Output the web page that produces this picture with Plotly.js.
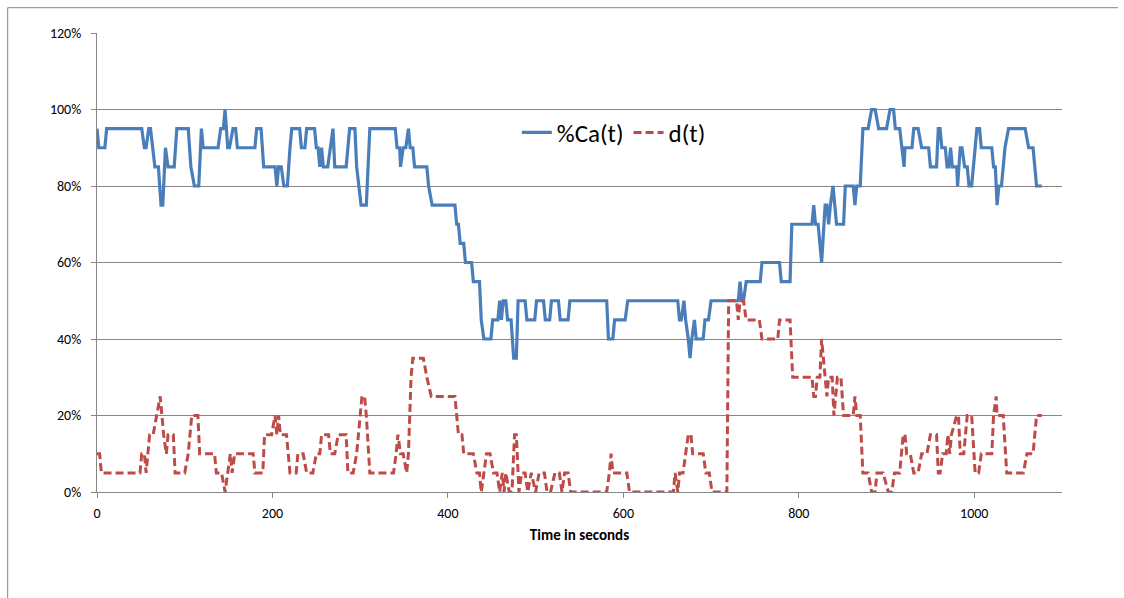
<!DOCTYPE html>
<html>
<head>
<meta charset="utf-8">
<script src="https://cdn.plot.ly/plotly-3.0.1.min.js"></script>
<style>
html,body{margin:0;padding:0;background:#fff;}
#chart{width:1124px;height:598px;}
</style>
</head>
<body>
<div id="chart"></div>
<script>
// %Ca(t) series: time (s) and percent
const tCa = [0,2,9,11,51,54,56,59,61,66,70,73,75,78,81,88,91,104,107,111,116,119,121,138,141,144,146,149,151,155,158,160,180,182,187,190,203,205,207,210,213,217,220,222,231,233,237,239,248,250,252,254,256,258,263,266,269,271,284,288,294,296,301,307,311,340,342,345,346,349,352,355,357,360,362,376,378,382,408,410,412,414,418,420,427,429,436,438,441,449,451,457,459,461,463,466,468,472,475,478,480,488,490,499,501,509,511,516,518,526,528,537,539,581,583,588,590,602,605,662,664,666,669,671,674,676,678,681,683,691,693,697,700,729,731,733,735,737,740,756,758,778,780,790,792,815,817,819,822,826,830,832,834,836,839,843,851,853,862,864,866,870,873,879,883,887,891,900,904,908,910,915,920,921,929,931,936,940,948,950,957,959,961,963,967,969,971,973,975,980,981,984,986,989,992,994,997,1001,1003,1006,1008,1020,1022,1024,1026,1028,1031,1035,1039,1058,1062,1067,1071,1077];
const ca  = [95,90,90,95,95,90,90,95,95,85,85,75,75,90,85,85,95,95,85,80,80,95,90,90,95,95,100,90,90,95,95,90,90,95,95,85,85,80,85,85,80,80,90,95,95,90,90,95,95,90,90,85,90,85,85,90,95,85,85,95,95,85,75,75,95,95,90,90,85,90,90,95,90,90,85,85,80,75,75,70,70,65,65,60,60,55,55,45,40,40,45,45,50,45,50,50,45,45,35,35,50,50,45,45,50,50,45,45,50,50,45,45,50,50,40,40,45,45,50,50,45,45,50,45,40,35,40,45,40,40,45,45,50,50,50,55,50,50,55,55,60,60,55,55,70,70,75,70,70,60,75,75,70,75,80,70,70,80,80,75,80,80,95,95,100,100,95,95,100,100,95,95,85,90,90,95,95,90,90,85,85,95,95,90,90,85,85,90,85,85,80,90,90,85,85,80,80,90,95,95,90,90,85,85,75,80,80,90,95,95,90,90,80,80];

// d(t) series: time (s) and percent
const tD = [0,3,5,49,51,54,56,58,60,64,68,72,74,76,79,81,87,89,100,104,108,115,117,134,136,142,146,149,152,154,157,178,180,189,191,199,203,205,207,209,216,220,227,229,235,239,246,250,254,256,264,266,271,275,284,286,292,296,300,302,305,307,311,338,341,343,346,349,353,355,358,360,372,376,381,408,412,416,418,429,433,436,438,441,444,448,452,456,459,462,464,466,470,473,476,478,481,484,488,491,495,500,504,510,513,517,522,527,530,533,537,540,581,584,586,588,591,604,607,657,659,662,664,668,671,674,677,679,688,691,694,698,701,718,720,729,731,733,737,740,742,755,758,776,778,790,793,815,817,819,821,824,826,828,830,832,834,838,840,842,844,848,851,862,864,866,870,873,879,883,887,889,896,902,906,909,915,919,921,923,927,931,936,940,946,950,957,959,961,964,968,970,972,974,980,982,984,988,990,992,997,1001,1005,1008,1020,1022,1025,1026,1030,1033,1037,1056,1060,1067,1071,1077];
const d   = [10,10,5,5,10,10,5,10,15,15,20,25,20,15,10,15,15,5,5,10,20,20,10,10,5,5,0,5,10,5,10,10,5,5,15,15,20,15,20,15,15,5,5,10,10,5,5,10,10,15,15,10,10,15,15,5,5,10,20,25,25,20,5,5,10,15,10,10,5,10,30,35,35,30,25,25,15,15,10,10,5,5,0,5,10,10,5,5,0,5,0,5,0,0,15,15,0,5,5,0,5,0,5,5,0,0,5,5,0,5,5,0,0,5,10,5,5,5,0,0,5,0,5,5,10,15,15,10,10,10,5,5,0,0,50,50,45,50,50,45,45,45,40,40,45,45,30,30,25,25,30,30,40,35,30,25,30,30,20,25,30,30,20,20,25,20,20,5,5,0,0,5,5,0,0,5,5,15,15,10,10,5,5,10,10,15,15,5,5,10,10,15,10,15,20,20,10,10,15,20,20,5,5,10,10,20,25,20,20,20,5,5,10,10,20,20];

const seriesNames = ['%Ca(t)', 'd(t)'];
const xTickVals = [0,200,400,600,800,1000];
const yTickVals = [0,20,40,60,80,100,120];

const FONT = 'Carlito, "Liberation Sans Narrow", Lato, "Liberation Sans", sans-serif';

const traces = [
  {x: tCa, y: ca, name: seriesNames[0], type: 'scatter', mode: 'lines',
   line: {color: '#4A7EBB', width: 3.2, shape: 'linear'}},
  {x: tD, y: d, name: seriesNames[1], type: 'scatter', mode: 'lines',
   line: {color: '#BE4B48', width: 3, dash: '8px,4px'}}
];

// plot area in pixels: x 97.3..1062, y 33.3..492.3
const L = 97.3, R = 1062, T = 33.3, B = 492.3;
const px2x = p => (p - L) / (R - L);
const px2y = p => (B - p) / (B - T);

const layout = {
  width: 1124, height: 598,
  margin: {l: L, r: 1124 - R, t: T, b: 598 - B, pad: 0},
  paper_bgcolor: '#ffffff', plot_bgcolor: '#ffffff',
  font: {family: FONT, size: 14, color: '#000000'},
  showlegend: true,
  legend: {orientation: 'h', x: px2x(517), xanchor: 'left', y: px2y(133), yanchor: 'middle',
           bgcolor: 'rgba(0,0,0,0)', font: {family: FONT, size: 25, color: '#000'},
           itemwidth: 30, traceorder: 'normal'},
  xaxis: {range: [0, 1100], tickvals: xTickVals, ticktext: xTickVals.map(String),
          showgrid: false, zeroline: false, showline: true, linecolor: '#868686', linewidth: 1,
          ticks: 'outside', ticklen: 5, tickcolor: '#868686', tickfont: {size: 14, family: FONT},
          ticklabelstandoff: 3,
          title: {text: '<b>Time in seconds</b>', font: {size: 15, family: FONT}, standoff: 8},
          fixedrange: true},
  yaxis: {range: [0, 120], tickvals: yTickVals, ticktext: yTickVals.map(v => v + '%'),
          showgrid: true, gridcolor: '#868686', gridwidth: 1, zeroline: false,
          showline: true, linecolor: '#868686', linewidth: 1,
          ticks: 'outside', ticklen: 5, tickcolor: '#868686', tickfont: {size: 14, family: FONT},
          ticklabelstandoff: 7,
          fixedrange: true},
  shapes: [
    {type: 'line', xref: 'paper', yref: 'paper', x0: px2x(8), x1: px2x(8), y0: px2y(8), y1: px2y(600), line: {color: '#868686', width: 1}},
    {type: 'line', xref: 'paper', yref: 'paper', x0: px2x(8), x1: px2x(1118), y0: px2y(8), y1: px2y(8), line: {color: '#868686', width: 1}}
  ]
};

Plotly.newPlot('chart', traces, layout, {displayModeBar: false, staticPlot: true});
</script>
</body>
</html>
